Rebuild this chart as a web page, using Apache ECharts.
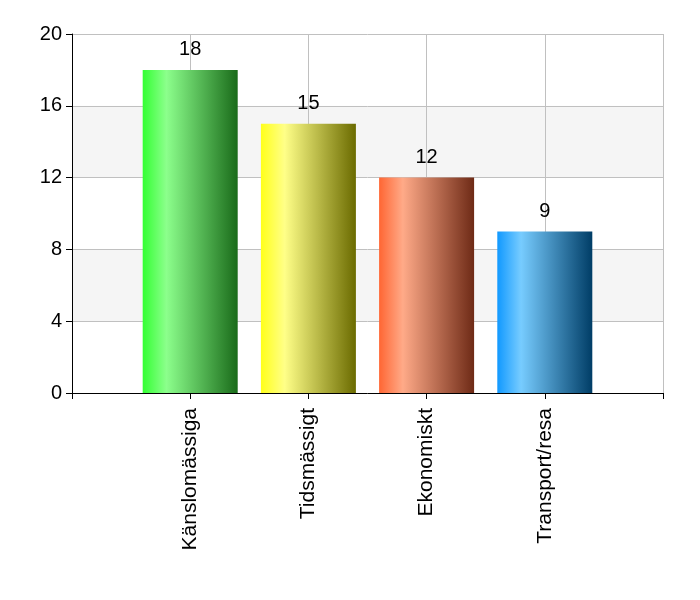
<!DOCTYPE html>
<html lang="en">
<head>
<meta charset="UTF-8">
<title>Orsaker</title>
<script src="https://cdn.jsdelivr.net/npm/echarts@6/dist/echarts.min.js"></script>
<style>
  html, body { margin: 0; padding: 0; background: #fff; }
</style>
</head>
<body>
<div id="chart" style="width: 700px; height: 600px;"></div>
<script>
// categories padded with empty slots at both ends, bars sit on the inner ticks
const categories = ['', 'Känslomässiga', 'Tidsmässigt', 'Ekonomiskt', 'Transport/resa', ''];
const values = ['-', 18, 15, 12, 9, '-'];
const yTicks = [0, 4, 8, 12, 16, 20];

// left colour, light highlight, dark right edge per bar
const barColors = [
  null,
  ['#33ff33', '#8cff8c', '#1a6b1a'],
  ['#ffff1a', '#ffff88', '#6b6b00'],
  ['#ff6633', '#ffaa88', '#6e2a16'],
  ['#1199ff', '#77ccff', '#003d66'],
  null
];

function grad(c) {
  return new echarts.graphic.LinearGradient(0, 0, 1, 0, [
    { offset: 0, color: c[0] },
    { offset: 0.25, color: c[1] },
    { offset: 1, color: c[2] }
  ]);
}

const chart = echarts.init(document.getElementById('chart'));
chart.setOption({
  animation: false,
  textStyle: { fontFamily: 'Liberation Sans, Arial, sans-serif' },
  grid: { left: 72, right: 37, top: 34, bottom: 207, containLabel: false },
  xAxis: {
    type: 'category',
    data: categories,
    boundaryGap: false,
    axisLine: { lineStyle: { color: '#000', width: 1 } },
    axisTick: { show: true, length: 6, lineStyle: { color: '#000' } },
    axisLabel: { rotate: 90, fontSize: 21, color: '#000', margin: 15, interval: 0 },
    splitLine: { show: true, lineStyle: { color: '#c0c0c0', width: 1 } }
  },
  yAxis: {
    type: 'value',
    min: yTicks[0],
    max: yTicks[yTicks.length - 1],
    interval: 4,
    axisLine: { show: true, lineStyle: { color: '#000', width: 1 } },
    axisTick: { show: true, length: 6, inside: false, lineStyle: { color: '#000' } },
    axisLabel: { fontSize: 20, color: '#000', margin: 10 },
    splitLine: { show: true, lineStyle: { color: '#c0c0c0', width: 1 } },
    splitArea: { show: true, areaStyle: { color: ['#ffffff', '#f5f5f5'] } }
  },
  series: [{
    type: 'bar',
    barWidth: 95,
    data: values.map((v, i) => barColors[i] ? { value: v, itemStyle: { color: grad(barColors[i]) } } : v),
    label: {
      show: true,
      position: 'top',
      distance: 10,
      fontSize: 20,
      color: '#000'
    }
  }]
});
</script>
</body>
</html>
